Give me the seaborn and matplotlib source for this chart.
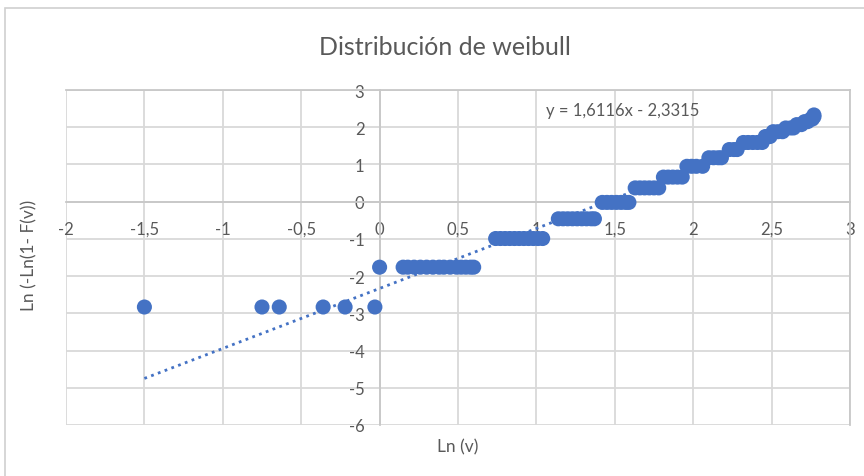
import pandas as pd
import matplotlib.pyplot as plt
import matplotlib.ticker as mticker
from matplotlib.patches import Rectangle
import seaborn as sns

# Puntos: cada escalon de F(v) tiene su valor de y
lnv_a = [-1.50, -0.75, -0.64, -0.36, -0.22, -0.03]
lny_a = -2.83
lnv_b = [0.0, 0.15, 0.18, 0.22, 0.26, 0.30, 0.34, 0.38, 0.41, 0.45, 0.49, 0.52, 0.55, 0.58, 0.60]
lny_b = -1.76
lnv_c = [0.74, 0.77, 0.80, 0.83, 0.86, 0.89, 0.92, 0.95, 0.98, 1.01, 1.04]
lny_c = -0.99
lnv_d = [1.14, 1.17, 1.20, 1.23, 1.26, 1.29, 1.32, 1.35, 1.37]
lny_d = -0.46
lnv_e = [1.42, 1.45, 1.48, 1.51, 1.54, 1.57, 1.59]
lny_e = -0.02
lnv_f = [1.63, 1.66, 1.69, 1.72, 1.75, 1.78]
lny_f = 0.37
lnv_g = [1.81, 1.84, 1.87, 1.90, 1.93]
lny_g = 0.66
lnv_h = [1.96, 1.99, 2.02, 2.06]
lny_h = 0.95
lnv_i = [2.10, 2.13, 2.16, 2.18]
lny_i = 1.18
lnv_j = [2.23, 2.26, 2.28]
lny_j = 1.40
lnv_k = [2.32, 2.35, 2.38, 2.41, 2.44]
lny_k = 1.59
# parte alta, escalones pequeños
lnv_top = [2.46, 2.49, 2.51, 2.54, 2.57, 2.59, 2.62, 2.64, 2.66, 2.69, 2.71, 2.73, 2.75, 2.76, 2.77, 2.77]
lny_top = [1.75, 1.75, 1.88, 1.88, 1.88, 1.98, 1.98, 1.98, 2.07, 2.07, 2.15, 2.15, 2.22, 2.22, 2.28, 2.33]

# Linea de tendencia (Excel)
pendiente = 1.6116
ordenada = -2.3315

niveles = [(lnv_a, lny_a), (lnv_b, lny_b), (lnv_c, lny_c), (lnv_d, lny_d), (lnv_e, lny_e),
           (lnv_f, lny_f), (lnv_g, lny_g), (lnv_h, lny_h), (lnv_i, lny_i), (lnv_j, lny_j),
           (lnv_k, lny_k)]
xs, ys = [], []
for vx, vy in niveles:
    xs += vx
    ys += [vy] * len(vx)
xs += lnv_top
ys += lny_top
df = pd.DataFrame({'lnv': xs, 'lny': ys})

x_tend = [df['lnv'].min(), df['lnv'].max()]
tend = pd.DataFrame({'lnv': x_tend, 'lny': [pendiente * x + ordenada for x in x_tend]})

sns.set_style('white')
plt.rcParams['font.family'] = ['Lato', 'DejaVu Sans']

azul = '#4472C4'
gris_txt = '#595959'
gris_rej = '#d9d9d9'

fig = plt.figure(figsize=(8.64, 4.77), dpi=100)
ax = fig.add_axes([66 / 864, 1 - 426 / 477, 784 / 864, 335 / 477])

sns.scatterplot(data=df, x='lnv', y='lny', ax=ax, color=azul, s=118, edgecolor='none', zorder=3)
sns.lineplot(data=tend, x='lnv', y='lny', ax=ax, color=azul, linewidth=2,
             linestyle=(0, (1, 1.6)), zorder=4)

ax.set_xlim(-2, 3)
ax.set_ylim(-6, 3)
ax.xaxis.set_major_locator(mticker.MultipleLocator(0.5))
ax.yaxis.set_major_locator(mticker.MultipleLocator(1))
coma = mticker.FuncFormatter(lambda v, p: ('%g' % v).replace('.', ','))
ax.xaxis.set_major_formatter(coma)
ax.yaxis.set_major_formatter(coma)
ax.grid(True, color=gris_rej, linewidth=1.3)
ax.set_axisbelow(True)

ax.spines['left'].set_position(('data', 0))
ax.spines['bottom'].set_position(('data', 0))
for s in ['left', 'bottom', 'top', 'right']:
    ax.spines[s].set_color('#c8c8c8')
    ax.spines[s].set_linewidth(1.3)
ax.tick_params(axis='x', length=0, pad=14, labelsize=12, labelcolor=gris_txt)
ax.tick_params(axis='y', length=0, pad=11, labelsize=12, labelcolor=gris_txt)

ax.set_xlabel('Ln (v)', fontsize=12.5, color=gris_txt)
ax.set_ylabel('Ln (-Ln(1- F(v))', fontsize=12.5, color=gris_txt)
ax.xaxis.set_label_coords(0.5, -0.04)
ax.yaxis.set_label_coords(-0.037, 0.51)

eq = 'y = %sx - %s' % (('%.4f' % pendiente).replace('.', ','), ('%.4f' % abs(ordenada)).replace('.', ','))
ax.text(1.55, 2.45, eq, ha='center', va='center', fontsize=12, color=gris_txt)

fig.suptitle('Distribución de weibull', x=0.515, y=0.9, va='center', fontsize=18, color=gris_txt)

# marco del grafico
fig.patches.append(Rectangle((5 / 864, -0.05), 1.0, 1 - 9 / 477 + 0.05, transform=fig.transFigure,
                             fill=False, edgecolor='#d0d0d0', linewidth=1.2))

plt.savefig('out.png', dpi=100)
